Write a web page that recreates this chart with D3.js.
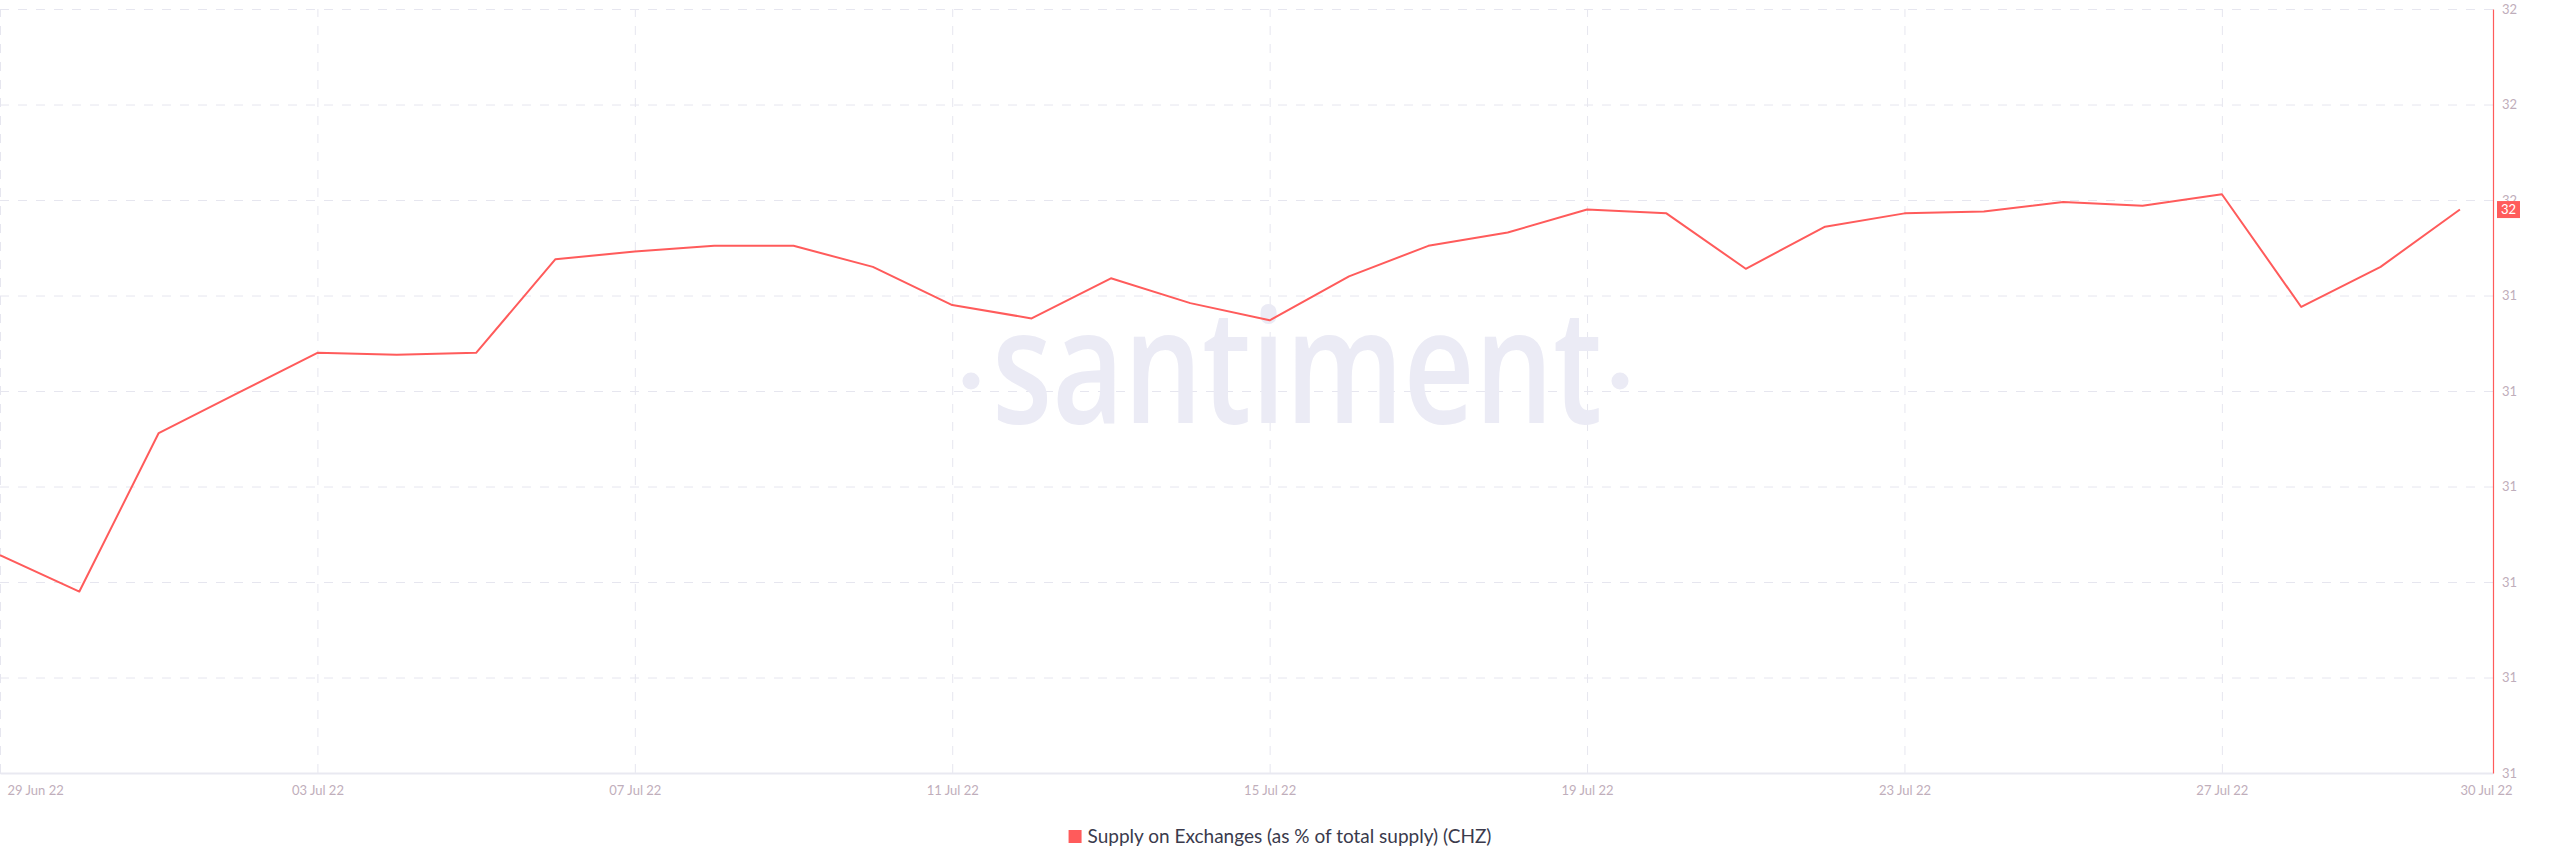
<!DOCTYPE html>
<html>
<head>
<meta charset="utf-8">
<script src="https://cdn.jsdelivr.net/npm/d3@7"></script>
<style>
  body { margin: 0; background: #ffffff; }
  svg { display: block; }
</style>
</head>
<body>
<script>
// daily values
var dates = [
  '2022-06-29', '2022-06-30', '2022-07-01', '2022-07-02', '2022-07-03', '2022-07-04',
  '2022-07-05', '2022-07-06', '2022-07-07', '2022-07-08', '2022-07-09', '2022-07-10',
  '2022-07-11', '2022-07-12', '2022-07-13', '2022-07-14', '2022-07-15', '2022-07-16',
  '2022-07-17', '2022-07-18', '2022-07-19', '2022-07-20', '2022-07-21', '2022-07-22',
  '2022-07-23', '2022-07-24', '2022-07-25', '2022-07-26', '2022-07-27', '2022-07-28',
  '2022-07-29', '2022-07-30'
];
var supplyValues = [
  31.354, 31.335, 31.418, 31.439, 31.460, 31.459,
  31.460, 31.509, 31.513, 31.516, 31.516, 31.505,
  31.485, 31.478, 31.499, 31.486, 31.477, 31.500,
  31.516, 31.523, 31.535, 31.533, 31.504, 31.526,
  31.533, 31.534, 31.539, 31.537, 31.543, 31.484,
  31.505, 31.535
];
var xTickDates = ['2022-06-29', '2022-07-03', '2022-07-07', '2022-07-11', '2022-07-15',
                  '2022-07-19', '2022-07-23', '2022-07-27', '2022-07-30'];
var yTickValues = [31.24, 31.29, 31.34, 31.39, 31.44, 31.49, 31.54, 31.59, 31.64];
var seriesName = 'Supply on Exchanges (as % of total supply) (CHZ)';
var domainEnd = '2022-07-30T10:00';

// dimensions
var outerWidth = 2560, outerHeight = 867;
var margin = {top: 9, right: 67, bottom: 94, left: 0};
var innerWidth = outerWidth - margin.left - margin.right;
var innerHeight = outerHeight - margin.top - margin.bottom;

var lineColor = '#ff5b5b';
var gridColor = '#e6e6ef';
var tickColor = '#bfaebb';

var parse = d3.utcParse('%Y-%m-%d');
var parseEnd = d3.utcParse('%Y-%m-%dT%H:%M');

var data = dates.map(function(d, i) { return {date: parse(d), value: supplyValues[i]}; });
var xTicks = xTickDates.map(parse);

var svg = d3.select('body').append('svg')
    .attr('width', outerWidth)
    .attr('height', outerHeight);

var g = svg.append('g')
    .attr('transform', 'translate(' + margin.left + ',' + margin.top + ')');

var x = d3.scaleUtc().domain([data[0].date, parseEnd(domainEnd)]).range([0, innerWidth]),
    y = d3.scaleLinear().domain(d3.extent(yTickValues)).range([innerHeight, 0]);

// horizontal grid
var yGrid = g.append('g')
    .call(d3.axisLeft(y).tickValues(yTickValues).tickSize(-innerWidth).tickFormat(''));
yGrid.select('.domain').remove();
yGrid.selectAll('text').remove();
yGrid.selectAll('line')
    .attr('stroke', gridColor)
    .attr('stroke-dasharray', '9,9');

// vertical grid (not for the last label)
var xGrid = g.append('g')
    .attr('transform', 'translate(0,' + innerHeight + ')')
    .call(d3.axisBottom(x).tickValues(xTicks.slice(0, -1)).tickSize(-innerHeight).tickFormat(''));
xGrid.select('.domain').remove();
xGrid.selectAll('text').remove();
xGrid.selectAll('line')
    .attr('stroke', gridColor)
    .attr('stroke-dasharray', '9,9');

// watermark
var wm = g.append('g').attr('fill', '#ebebf5');
wm.append('text')
    .attr('x', 1297)
    .attr('y', 414)
    .attr('text-anchor', 'middle')
    .attr('textLength', 610)
    .attr('lengthAdjust', 'spacingAndGlyphs')
    .style('font', '600 160px "Open Sans"')
    .text('santiment');
wm.append('circle').attr('cx', 971).attr('cy', 372).attr('r', 8.5);
wm.append('circle').attr('cx', 1620).attr('cy', 372).attr('r', 8.5);

// bottom axis
var xAxis = g.append('g')
    .attr('transform', 'translate(0,' + innerHeight + ')')
    .call(d3.axisBottom(x)
      .tickValues(xTicks)
      .tickSize(0)
      .tickPadding(13)
      .tickFormat(d3.utcFormat('%d %b %y')));
xAxis.select('.domain').attr('stroke', '#e9e9f1').attr('stroke-width', 2);
xAxis.selectAll('text')
    .attr('fill', tickColor)
    .style('font', '13px Lato');
xAxis.selectAll('.tick').filter(function(d, i) { return i === 0; })
    .select('text').attr('text-anchor', 'start').attr('dx', 7);
xAxis.selectAll('.tick').filter(function(d, i) { return i === xTicks.length - 1; })
    .select('text').attr('text-anchor', 'start');

// the line
var line = d3.line()
    .x(function(d) { return x(d.date); })
    .y(function(d) { return y(d.value); });

g.append('path')
    .datum(data)
    .attr('d', line)
    .attr('fill', 'none')
    .attr('stroke', lineColor)
    .attr('stroke-width', 2)
    .attr('stroke-linejoin', 'round');

// right axis
var yAxis = g.append('g')
    .attr('transform', 'translate(' + innerWidth + ',0)')
    .call(d3.axisRight(y)
      .tickValues(yTickValues)
      .tickSize(0)
      .tickPadding(9)
      .tickFormat(d3.format('.0f')));
yAxis.select('.domain').attr('stroke', lineColor).attr('stroke-width', 1.2);
yAxis.selectAll('text')
    .attr('fill', tickColor)
    .style('font', '13px Lato');

// last value badge
var last = data[data.length - 1];
var badge = g.append('g')
    .attr('transform', 'translate(' + (innerWidth + 4) + ',' + y(last.value) + ')');
badge.append('rect')
    .attr('x', 0).attr('y', -8.5)
    .attr('width', 23).attr('height', 17)
    .attr('fill', lineColor);
badge.append('text')
    .attr('x', 11.5).attr('dy', '0.35em')
    .attr('text-anchor', 'middle')
    .attr('fill', '#ffffff')
    .style('font', '13px Lato')
    .text(d3.format('.0f')(last.value));

// legend
var legend = svg.append('g');
var legendText = legend.append('text')
    .attr('x', 19).attr('y', 836.5)
    .attr('dy', '0.35em')
    .attr('fill', '#3a3a4c')
    .style('font', '19px Lato')
    .text(seriesName);
legend.append('rect')
    .attr('x', 0).attr('y', 830)
    .attr('width', 13).attr('height', 13)
    .attr('fill', lineColor);
var legendWidth = 19 + legendText.node().getComputedTextLength();
legend.attr('transform', 'translate(' + ((outerWidth - legendWidth) / 2) + ',0)');
</script>
</body>
</html>
